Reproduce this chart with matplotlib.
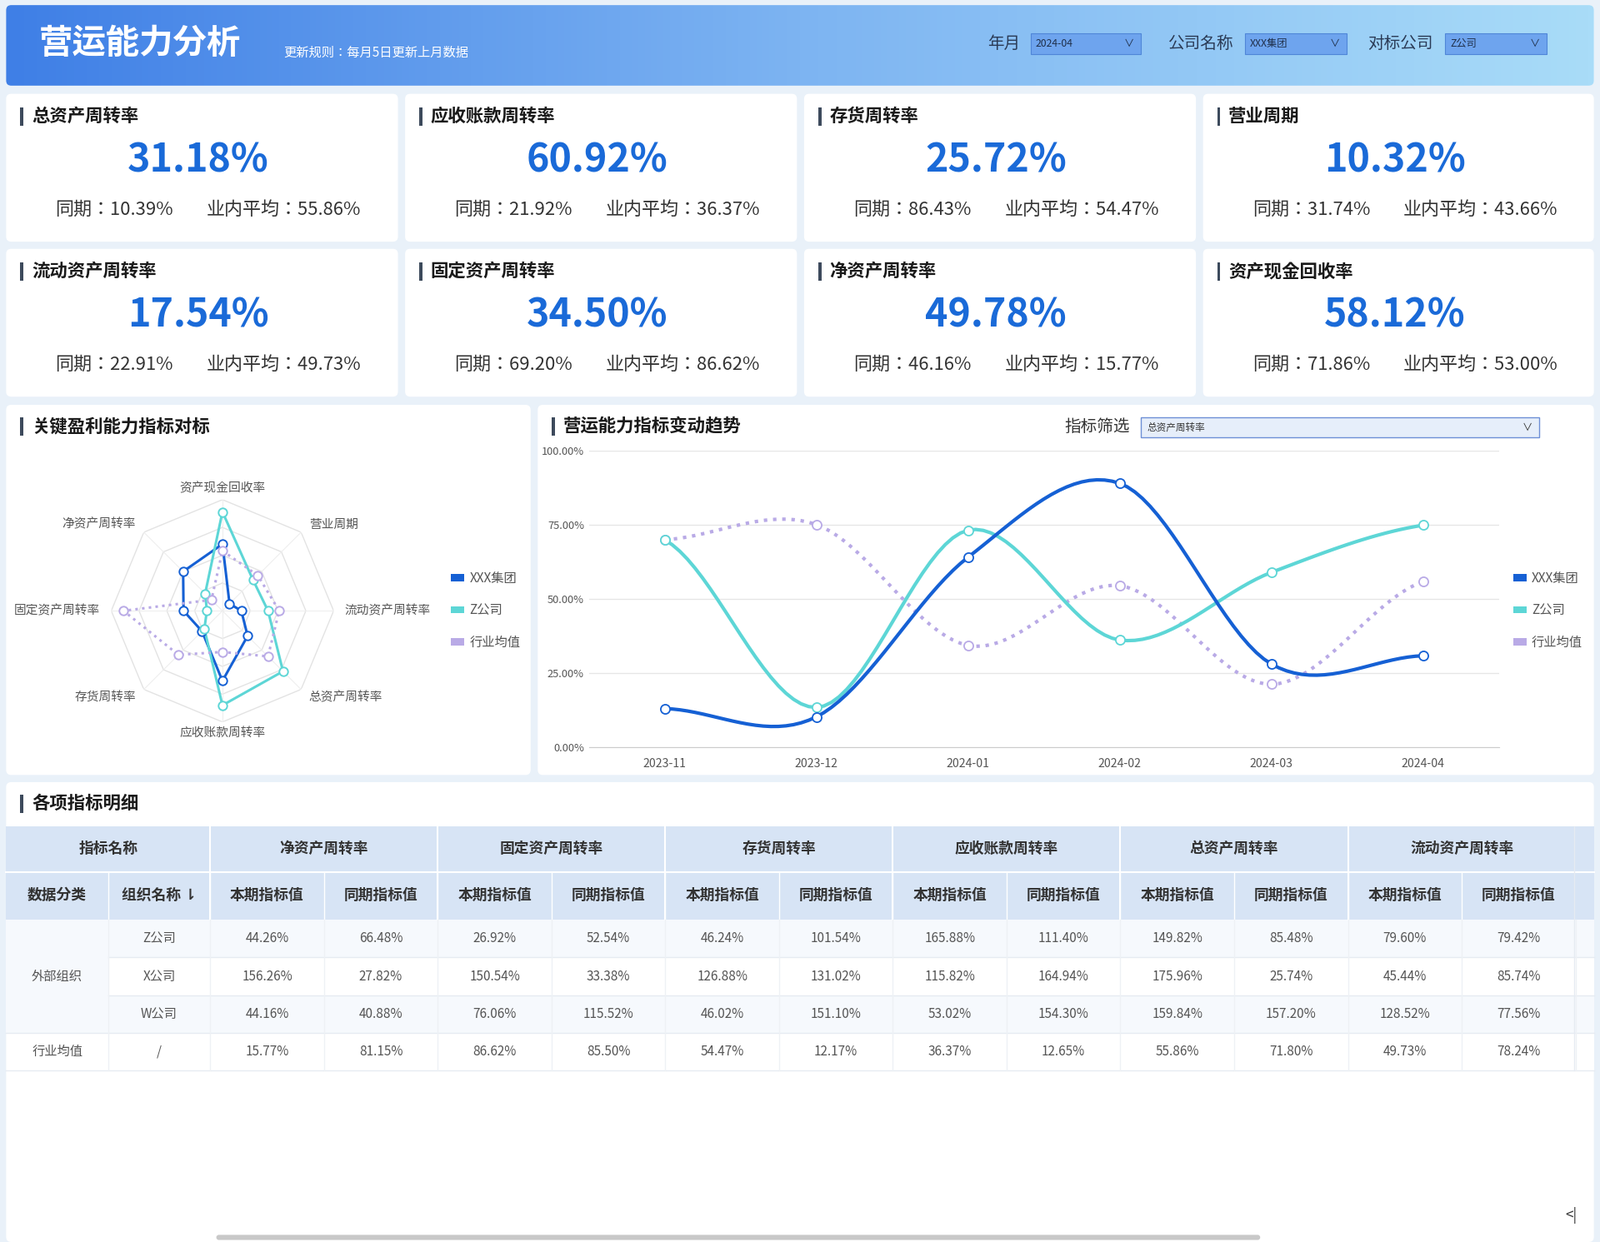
import numpy as np
import matplotlib
matplotlib.use("Agg")
import matplotlib.pyplot as plt
from matplotlib import font_manager as fm
from matplotlib.patches import FancyBboxPatch, Rectangle
from matplotlib.colors import LinearSegmentedColormap

cjk = [f.name for f in fm.fontManager.ttflist if "CJK" in f.name]
pref = [n for n in ["Noto Sans CJK SC", "Noto Sans CJK JP", "Noto Sans CJK TC", "Noto Sans CJK KR"] if n in cjk]
plt.rcParams["font.family"] = (pref[:1] or cjk[:1]) + ["DejaVu Sans"]
plt.rcParams["axes.unicode_minus"] = False

# ---- data ----
kpi_names = ["总资产周转率", "应收账款周转率", "存货周转率", "营业周期",
             "流动资产周转率", "固定资产周转率", "净资产周转率", "资产现金回收率"]
kpi_values = [31.18, 60.92, 25.72, 10.32, 17.54, 34.50, 49.78, 58.12]
kpi_yoy = [10.39, 21.92, 86.43, 31.74, 22.91, 69.20, 46.16, 71.86]
kpi_avg = [55.86, 36.37, 54.47, 43.66, 49.73, 86.62, 15.77, 53.00]

radar_axes = ["资产现金回收率", "营业周期", "流动资产周转率", "总资产周转率",
              "应收账款周转率", "存货周转率", "固定资产周转率", "净资产周转率"]
radar_xxx = [60, 9, 17, 32, 63, 26, 35, 50]
radar_z = [89, 39, 41, 77, 85, 23, 14, 22]
radar_avg = [54, 45, 51, 58, 37, 56, 89, 14]

months = ["2023-11", "2023-12", "2024-01", "2024-02", "2024-03", "2024-04"]
trend_xxx = [13.1, 10.3, 64.1, 89.0, 28.1, 30.9]
trend_z = [70.0, 13.5, 73.2, 36.2, 59.0, 74.9]
trend_avg = [70.0, 75.1, 34.4, 54.5, 21.3, 55.9]

series_names = ["XXX集团", "Z公司", "行业均值"]
series_colors = ["#1560d4", "#5dd6d6", "#b9aae6"]

table_metrics = ["净资产周转率", "固定资产周转率", "存货周转率",
                 "应收账款周转率", "总资产周转率", "流动资产周转率"]
table_cat = ["外部组织", "外部组织", "外部组织", "行业均值"]
table_org = ["Z公司", "X公司", "W公司", "/"]
table_z = [44.26, 66.48, 26.92, 52.54, 46.24, 101.54, 165.88, 111.40, 149.82, 85.48, 79.60, 79.42]
table_x = [156.26, 27.82, 150.54, 33.38, 126.88, 131.02, 115.82, 164.94, 175.96, 25.74, 45.44, 85.74]
table_w = [44.16, 40.88, 76.06, 115.52, 46.02, 151.10, 53.02, 154.30, 159.84, 157.20, 128.52, 77.56]
table_ind = [15.77, 81.15, 86.62, 85.50, 54.47, 12.17, 36.37, 12.65, 55.86, 71.80, 49.73, 78.24]
table_rows = [table_z, table_x, table_w, table_ind]

W, H = 1568, 1218          # layout units (reference at display scale)
S = 1920 / W


def fs(px):
    return px * S * 0.72


fig = plt.figure(figsize=(19.2, 14.91), dpi=100)
fig.patch.set_facecolor("#e9f1f9")
bg = fig.add_axes([0, 0, 1, 1])
bg.set_xlim(0, W)
bg.set_ylim(H, 0)
bg.axis("off")


def rect_frac(x0, y0, x1, y1):
    return [x0 / W, 1 - y1 / H, (x1 - x0) / W, (y1 - y0) / H]


def panel(x0, y0, x1, y1, color="white"):
    p = FancyBboxPatch((x0, y0), x1 - x0, y1 - y0, boxstyle="round,pad=0,rounding_size=5",
                       fc=color, ec="none", zorder=1)
    bg.add_patch(p)
    return p


def title(x, y, text, size=17.5):
    bg.add_patch(Rectangle((x, y - 9), 3, 18, fc="#3d4a5c", ec="none", zorder=3))
    bg.text(x + 11, y, text, fontsize=fs(size), fontweight="bold", color="#1a1a1a",
            va="center", zorder=3)


# ---- header ----
hdr = panel(6, 5, 1562, 84)
grad = np.linspace(0, 1, 256).reshape(1, -1)
cm = LinearSegmentedColormap.from_list("h", ["#3f7fe6", "#7db4f2", "#a9dcf8"])
im = bg.imshow(grad, cmap=cm, extent=(6, 1562, 84, 5), aspect="auto", zorder=2)
im.set_clip_path(hdr)
bg.text(38, 43, "营运能力分析", fontsize=fs(33), fontweight="heavy", style="italic",
        color="white", va="center", zorder=4)
bg.text(278, 52, "更新规则：每月5日更新上月数据", fontsize=fs(12.5), color="white", va="center", zorder=4)
for lab, lx, bx0, bx1, val in [("年月", 968, 1010, 1118, "2024-04"),
                               ("公司名称", 1144, 1220, 1320, "XXX集团"),
                               ("对标公司", 1340, 1416, 1516, "Z公司")]:
    bg.text(lx, 43, lab, fontsize=fs(16), color="#2a3a55", va="center", zorder=4)
    bg.add_patch(Rectangle((bx0, 33), bx1 - bx0, 20, fc="#6ea4ee", ec="#4f86d8", lw=0.8, zorder=4))
    bg.text(bx0 + 5, 43, val, fontsize=fs(10), color="#1f2f4a", va="center", zorder=5)
    bg.text(bx1 - 12, 43, "∨", fontsize=fs(10), color="#1f2f4a", va="center", ha="center", zorder=5)

# ---- KPI cards ----
cols = [(6, 390), (397, 781), (788, 1172), (1179, 1562)]
rows = [(92, 237), (244, 389)]
for i, name in enumerate(kpi_names):
    x0, x1 = cols[i % 4]
    y0, y1 = rows[i // 4]
    panel(x0, y0, x1, y1)
    title(x0 + 14, y0 + 22, name)
    bg.text(x0 + 188, y0 + 65, f"{kpi_values[i]:.2f}%", fontsize=fs(38), fontweight="heavy",
            color="#1a6ad8", ha="center", va="center", zorder=3)
    bg.text(x0 + 106, y0 + 114, f"同期：{kpi_yoy[i]:.2f}%", fontsize=fs(18), color="#333333",
            ha="center", va="center", zorder=3)
    bg.text(x0 + 272, y0 + 114, f"业内平均：{kpi_avg[i]:.2f}%", fontsize=fs(18), color="#333333",
            ha="center", va="center", zorder=3)

# ---- radar panel ----
panel(6, 397, 520, 760)
title(20, 418, "关键盈利能力指标对标")
cx, cy, rr = 218, 599, 109
rax = fig.add_axes(rect_frac(cx - rr, cy - rr, cx + rr, cy + rr), projection="polar")
rax.set_theta_zero_location("N")
rax.set_theta_direction(-1)
rax.set_ylim(0, 100)
rax.axis("off")
n = len(radar_axes)
ang = np.linspace(0, 2 * np.pi, n, endpoint=False)
angc = np.append(ang, ang[0])
for ring in [25, 50, 75, 100]:
    rax.plot(angc, [ring] * (n + 1), color="#e3e3e3", lw=1)
for a in ang:
    rax.plot([a, a], [0, 100], color="#eeeeee", lw=0.8)
for a, lab in zip(ang, radar_axes):
    ha = "center" if abs(np.sin(a)) < 0.1 else ("left" if np.sin(a) > 0 else "right")
    rax.text(a, 110, lab, fontsize=fs(12), color="#555555", ha=ha, va="center")
for vals, col, ls in [(radar_xxx, series_colors[0], "-"), (radar_z, series_colors[1], "-"),
                      (radar_avg, series_colors[2], ":")]:
    v = np.append(vals, vals[0])
    rax.plot(angc, v, color=col, lw=2.2, ls=ls, zorder=3)
    rax.plot(ang, vals, "o", ms=7.5, mfc="white", mec=col, mew=1.4, zorder=4)
for k, (nm, col) in enumerate(zip(series_names, series_colors)):
    bg.add_patch(Rectangle((442, 563 + k * 31.5), 13, 7, fc=col, ec="none", zorder=3))
    bg.text(460, 567 + k * 31.5, nm, fontsize=fs(12.5), color="#555555", va="center", zorder=3)

# ---- trend panel ----
panel(527, 397, 1562, 760)
title(541, 418, "营运能力指标变动趋势")
bg.text(1043, 419, "指标筛选", fontsize=fs(16), color="#333333", va="center", zorder=3)
bg.add_patch(Rectangle((1118, 409), 390, 20, fc="#e6eefa", ec="#6d8fd6", lw=1, zorder=3))
bg.text(1124, 419, "总资产周转率", fontsize=fs(9.5), color="#333333", va="center", zorder=4)
bg.text(1497, 419, "∨", fontsize=fs(10), color="#333333", va="center", ha="center", zorder=4)

lax = fig.add_axes(rect_frac(577, 442, 1469, 733))
lax.set_xlim(-0.5, 5.5)
lax.set_ylim(0, 100)
for s in ["top", "right", "left"]:
    lax.spines[s].set_visible(False)
lax.spines["bottom"].set_color("#cccccc")
lax.set_yticks([0, 25, 50, 75, 100])
lax.set_yticklabels(["0.00%", "25.00%", "50.00%", "75.00%", "100.00%"])
lax.set_xticks(range(6))
lax.set_xticklabels(months)
lax.tick_params(length=0, labelsize=fs(11.5), labelcolor="#555555")
lax.tick_params(axis="y", labelsize=fs(10.5), pad=4)
lax.tick_params(axis="x", pad=9)
lax.grid(axis="y", color="#e6e6e6", lw=1)
lax.set_facecolor("none")


def smooth(y, k=20):
    y = np.asarray(y, float)
    p = np.concatenate([[y[0]], y, [y[-1]]])
    xs, ys = [], []
    t = np.linspace(0, 1, k, endpoint=False)
    for i in range(1, len(p) - 2):
        p0, p1, p2, p3 = p[i - 1], p[i], p[i + 1], p[i + 2]
        seg = 0.5 * (2 * p1 + (-p0 + p2) * t + (2 * p0 - 5 * p1 + 4 * p2 - p3) * t ** 2
                     + (-p0 + 3 * p1 - 3 * p2 + p3) * t ** 3)
        xs.extend(i - 1 + t)
        ys.extend(seg)
    xs.append(len(y) - 1)
    ys.append(y[-1])
    return np.array(xs), np.array(ys)


xi = np.arange(len(months))
for vals, col, ls in [(trend_avg, series_colors[2], ":"), (trend_z, series_colors[1], "-"),
                      (trend_xxx, series_colors[0], "-")]:
    sx, sy = smooth(vals)
    lax.plot(sx, sy, color=col, lw=3, ls=ls, zorder=3)
    lax.plot(xi, vals, "o", ms=8, mfc="white", mec=col, mew=1.3, zorder=4)
for k, (nm, col) in enumerate(zip(series_names, series_colors)):
    bg.add_patch(Rectangle((1483, 563 + k * 31.5), 13, 7, fc=col, ec="none", zorder=3))
    bg.text(1501, 567 + k * 31.5, nm, fontsize=fs(12.5), color="#555555", va="center", zorder=3)

# ---- table ----
panel(6, 767, 1562, 1218)
title(20, 788, "各项指标明细")
hc = "#d7e4f5"
ty0, ty1, ty2 = 810, 855, 902
rh = 37
xs_cols = [6, 106, 206] + [206 + 111.5 * (k + 1) for k in range(12)]
bg.add_patch(Rectangle((6, ty0), 1556, ty2 - ty0, fc=hc, ec="none", zorder=2))
hb = dict(fontsize=fs(14.5), fontweight="bold", color="#333333", ha="center", va="center", zorder=4)
bg.text(106, (ty0 + ty1) / 2, "指标名称", **hb)
for k, m in enumerate(table_metrics):
    bg.text(xs_cols[2 + 2 * k] + 111.5, (ty0 + ty1) / 2, m, **hb)
    bg.plot([xs_cols[2 + 2 * k]] * 2, [ty0, ty2], color="white", lw=1.5, zorder=3)
bg.plot([6, 1562], [ty1, ty1], color="white", lw=1.5, zorder=3)
bg.plot([1543, 1543], [ty0, 1050], color="#e6ebf2", lw=1, zorder=3)
sub = ["数据分类", "组织名称 ⇂"] + ["本期指标值", "同期指标值"] * 6
for k, s in enumerate(sub):
    bg.text((xs_cols[k] + xs_cols[k + 1]) / 2, (ty1 + ty2) / 2, s, **hb)
    if k > 0:
        bg.plot([xs_cols[k]] * 2, [ty1, ty2], color="white", lw=1, zorder=3)
cell = dict(fontsize=fs(12.5), color="#555555", ha="center", va="center", zorder=4)
for r, vals in enumerate(table_rows):
    y0 = ty2 + r * rh
    bg.add_patch(Rectangle((106, y0), 1456, rh, fc="#f6f9fd" if r % 2 == 0 else "white",
                           ec="none", zorder=2))
    bg.text(156, y0 + rh / 2, table_org[r], **cell)
    for k, v in enumerate(vals):
        bg.text((xs_cols[k + 2] + xs_cols[k + 3]) / 2, y0 + rh / 2, f"{v:.2f}%", **cell)
    bg.plot([106 if r < 2 else 6, 1562], [y0 + rh, y0 + rh], color="#e6ebf2", lw=1, zorder=3)
bg.add_patch(Rectangle((6, ty2), 100, 3 * rh, fc="#f6f9fd", ec="none", zorder=2))
bg.text(56, ty2 + 1.5 * rh, table_cat[0], **cell)
bg.text(56, ty2 + 3.5 * rh, table_cat[3], **cell)
for x in xs_cols[1:]:
    bg.plot([x, x], [ty2, ty2 + 4 * rh], color="#eef1f5", lw=1, zorder=3)
bg.add_patch(FancyBboxPatch((212, 1211), 1023, 5, boxstyle="round,pad=0,rounding_size=2.5",
                            fc="#c8c8c8", ec="none", zorder=3))
bg.text(1540, 1192, "<|", fontsize=fs(14), color="#333333", ha="center", va="center", zorder=3)

fig.savefig("out.png", dpi=100, facecolor=fig.get_facecolor())
